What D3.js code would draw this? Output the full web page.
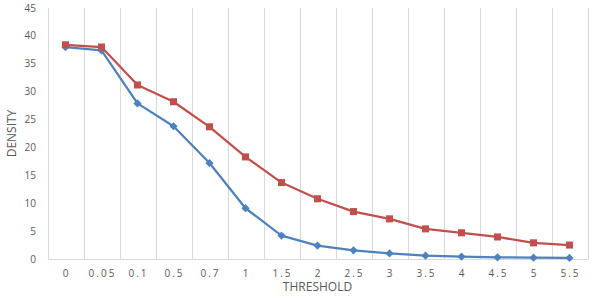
<!DOCTYPE html>
<html>
<head>
<meta charset="utf-8">
<script src="https://cdn.jsdelivr.net/npm/d3@7"></script>
<style>
  body { margin: 0; background: #fff; }
  svg { display: block; font-family: "Open Sans", "Liberation Sans", sans-serif; }
</style>
</head>
<body>
<svg></svg>
<script>
/* data */
const thresholds = ['0', '0.05', '0.1', '0.5', '0.7', '1', '1.5', '2', '2.5', '3', '3.5', '4', '4.5', '5', '5.5'];
const blueDensity = [38.0, 37.4, 27.9, 23.8, 17.2, 9.1, 4.2, 2.4, 1.55, 1.0, 0.6, 0.42, 0.3, 0.23, 0.2];
const redDensity = [38.4, 38.0, 31.2, 28.2, 23.7, 18.3, 13.7, 10.8, 8.5, 7.2, 5.4, 4.7, 3.95, 2.9, 2.5];
const yTicks = [0, 5, 10, 15, 20, 25, 30, 35, 40, 45];

/* sizes */
const width = 600, height = 303;
const margin = {top: 8, right: 12.5, bottom: 44, left: 47.5};

const svg = d3.select('svg').attr('width', width).attr('height', height);

const x = d3.scaleBand()
	.domain(thresholds)
	.range([margin.left, width - margin.right])
	.padding(0);
const y = d3.scaleLinear()
	.domain([0, 45])
	.range([height - margin.bottom, margin.top]);

/* vertical gridlines at category boundaries */
const bounds = thresholds.map((d) => x(d)).concat([x(thresholds[thresholds.length - 1]) + x.bandwidth()]);
svg.append('g')
	.selectAll('line')
	.data(bounds)
	.enter().append('line')
	.attr('x1', (d) => Math.round(d) + 0.5)
	.attr('x2', (d) => Math.round(d) + 0.5)
	.attr('y1', y(45))
	.attr('y2', y(0))
	.attr('stroke', '#d9d9d9')
	.attr('stroke-width', 1);

/* x axis line */
svg.append('line')
	.attr('x1', margin.left)
	.attr('x2', width - margin.right + 1)
	.attr('y1', Math.round(y(0)) + 0.5)
	.attr('y2', Math.round(y(0)) + 0.5)
	.attr('stroke', '#d9d9d9');

/* y tick labels */
svg.append('g')
	.selectAll('text')
	.data(yTicks)
	.enter().append('text')
	.attr('x', 36)
	.attr('y', (d) => y(d))
	.attr('dy', '0.35em')
	.attr('text-anchor', 'end')
	.attr('font-size', 10)
	.attr('fill', '#595959')
	.text((d) => d);

/* x tick labels */
svg.append('g')
	.selectAll('text')
	.data(thresholds)
	.enter().append('text')
	.attr('x', (d) => x(d) + x.bandwidth() / 2 + 1)
	.attr('y', 273)
	.attr('dy', '0.35em')
	.attr('text-anchor', 'middle')
	.attr('font-size', 10)
	.attr('letter-spacing', 2)
	.attr('fill', '#595959')
	.text((d) => d);

/* axis titles */
svg.append('text')
	.attr('x', (margin.left + width - margin.right) / 2)
	.attr('y', 287)
	.attr('dy', '0.35em')
	.attr('text-anchor', 'middle')
	.attr('font-size', 12)
	.attr('fill', '#595959')
	.text('THRESHOLD');
svg.append('text')
	.attr('transform', `translate(12,${(y(0) + y(45)) / 2}) rotate(-90)`)
	.attr('dy', '0.35em')
	.attr('text-anchor', 'middle')
	.attr('font-size', 12)
	.attr('fill', '#595959')
	.text('DENSITY');

/* series */
const series = [
	{values: blueDensity, color: '#4f81bd', size: 34, rotate: 45},
	{values: redDensity, color: '#c0504d', size: 50, rotate: 0}
];
const line = d3.line()
	.x((d, i) => x(thresholds[i]) + x.bandwidth() / 2)
	.y((d) => y(d));

series.forEach(function (s) {
	svg.append('path')
		.datum(s.values)
		.attr('d', line)
		.attr('fill', 'none')
		.attr('stroke', s.color)
		.attr('stroke-width', 2.25)
		.attr('stroke-linejoin', 'round');
	svg.append('g')
		.selectAll('path')
		.data(s.values)
		.enter().append('path')
		.attr('d', d3.symbol().type(d3.symbolSquare).size(s.size))
		.attr('transform', (d, i) => `translate(${x(thresholds[i]) + x.bandwidth() / 2},${y(d)}) rotate(${s.rotate})`)
		.attr('fill', s.color);
});
</script>
</body>
</html>
